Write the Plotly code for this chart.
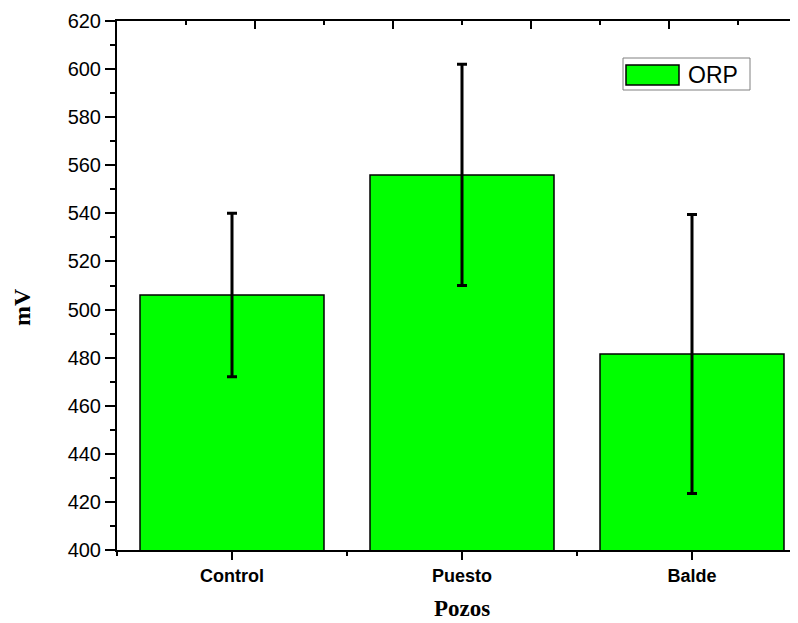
import plotly.graph_objects as go

categories = ["Control", "Puesto", "Balde"]
orp_mean = [506, 556, 481.5]
orp_err = [34, 46, 58]
series_name = "ORP"
x_title = "Pozos"
y_title = "mV"

# page body adds an 8px offset; work in screen coords and subtract it
OFF = 8
W, H = 798 - OFF, 623 - OFF
L, T = 117 - OFF, 21 - OFF
BOT = 550 - OFF
R = 0
B = H - BOT
pw = W - L - R
ph = BOT - T

def px_x(x):
    return (x - OFF - L) / pw

def px_y(y):
    return (BOT - (y - OFF)) / ph

fig = go.Figure()
fig.add_trace(go.Bar(
    x=categories, y=orp_mean, name=series_name,
    marker=dict(color="#00ff00", line=dict(color="black", width=1.5)),
    width=0.8,
    error_y=dict(type="data", array=orp_err, visible=True, color="black",
                 thickness=3, width=5),
    showlegend=False,
))
# invisible trace that carries the top axis
fig.add_trace(go.Scatter(x=[0], y=[400], xaxis="x2", mode="markers",
                         marker=dict(opacity=0), showlegend=False,
                         hoverinfo="skip"))

fig.update_layout(
    width=W, height=H,
    margin=dict(l=L, r=R, t=T, b=B, pad=0),
    plot_bgcolor="white", paper_bgcolor="white",
    xaxis=dict(
        range=[-0.5, pw / 230 - 0.5],
        showline=True, linecolor="black", linewidth=2,
        ticks="outside", ticklen=8, tickwidth=2, tickcolor="black",
        minor=dict(ticks="outside", ticklen=4, tickwidth=2, tickcolor="black",
                   tickvals=[-0.5, 0.5, 1.5]),
        tickfont=dict(family="Liberation Sans, Arial", size=18, color="black",
                      weight="bold"),
        showgrid=False, zeroline=False,
    ),
    xaxis2=dict(
        overlaying="x", side="top", anchor="y",
        range=[0, pw / 138], dtick=1, tick0=0,
        showline=True, linecolor="black", linewidth=2,
        ticks="inside", ticklen=8, tickwidth=2, tickcolor="black",
        minor=dict(ticks="inside", ticklen=4, tickwidth=2, tickcolor="black",
                   dtick=0.5),
        showticklabels=False, showgrid=False, zeroline=False,
    ),
    yaxis=dict(
        range=[400, 620], dtick=20, tick0=400,
        showline=True, linecolor="black", linewidth=2,
        ticks="outside", ticklen=10, tickwidth=2, tickcolor="black",
        minor=dict(ticks="outside", ticklen=5, tickwidth=2, tickcolor="black",
                   dtick=10),
        tickfont=dict(family="Liberation Sans, Arial", size=20, color="black"),
        showgrid=False, zeroline=False,
    ),
)

title_font = dict(family="Liberation Serif, Times New Roman", size=24,
                  color="black")
fig.add_annotation(text="<b>" + x_title + "</b>", xref="paper", yref="paper",
                   x=px_x(462), y=px_y(608), xanchor="center", yanchor="middle",
                   showarrow=False,
                   font=dict(family="Liberation Serif, Times New Roman",
                             size=23, color="black"))
fig.add_annotation(text="<b>" + y_title + "</b>", xref="paper", yref="paper",
                   x=px_x(22), y=px_y(307), xanchor="center", yanchor="middle",
                   showarrow=False, textangle=-90, font=title_font)

# legend drawn by hand (wide swatch as in the reference)
fig.add_shape(type="rect", xref="paper", yref="paper",
              x0=px_x(623), x1=px_x(750), y0=px_y(90), y1=px_y(58),
              line=dict(color="#808080", width=1), fillcolor="white")
fig.add_shape(type="rect", xref="paper", yref="paper",
              x0=px_x(626), x1=px_x(679), y0=px_y(85), y1=px_y(65),
              line=dict(color="black", width=1.5), fillcolor="#00ff00")
fig.add_annotation(text=series_name, xref="paper", yref="paper",
                   x=px_x(686), y=px_y(75), xanchor="left", yanchor="middle",
                   showarrow=False,
                   font=dict(family="Liberation Sans, Arial", size=23,
                             color="black"))

fig.write_html("out.html")
